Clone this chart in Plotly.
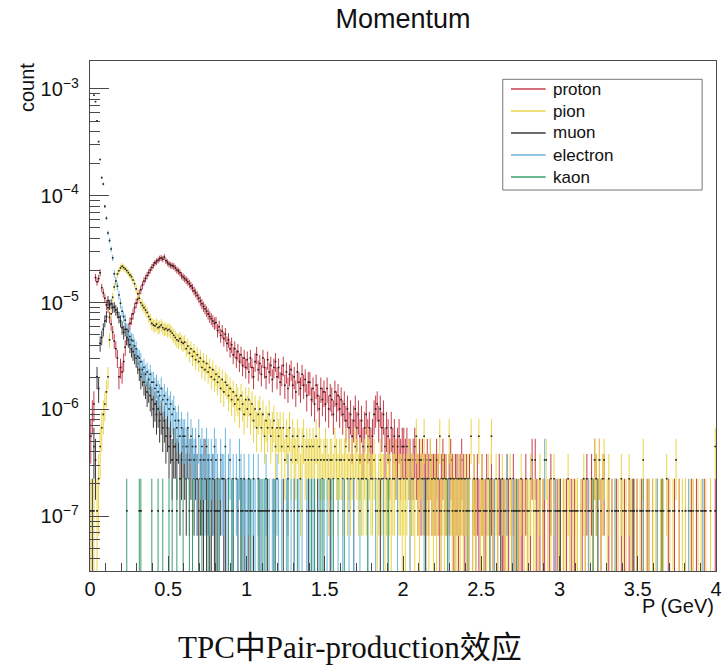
import numpy as np
import plotly.graph_objects as go

# ---------------- histogram definition ----------------
P_MIN, P_MAX, N_BINS = 0.0, 4.0, 400      # momentum bins (GeV)
ENTRY_WEIGHT = 1.12e-7                    # value of one entry ("count" per entry)

# entries per bin, 20 bins (0.2 GeV) per row
proton_counts = [
    [5,8,10,153,140,150,170,123,110,98, 85,80,65,56,47,39,33,27,18,22],
    [20,25,34,42,50,57,63,70,80,88, 96,108,118,130,142,150,160,170,180,190],
    [200,210,216,222,230,234,228,238,220,212, 205,200,198,195,188,180,176,170,160,155],
    [150,145,140,134,128,122,115,110,104,98, 92,87,82,78,74,70,66,63,60,57],
    [58,49,53,44,48,41,45,37,40,33, 36,29,33,27,31,25,29,23,27,22],
    [26,20,27,22,18,25,29,21,24,19, 27,22,18,26,20,23,17,22,25,18],
    [22,16,19,23,15,20,14,19,21,15, 18,13,20,16,14,19,15,17,12,16],
    [16,11,14,10,15,12,9,14,11,13, 10,14,9,12,11,8,13,10,12,9],
    [11,8,10,7,9,6,8,5,7,9, 6,8,5,7,4,6,8,5,6,4],
    [5,8,9,10,7,9,6,8,4,6, 5,3,6,4,5,3,4,5,3,4],
    [4,3,4,3,3,2,3,4,3,2, 3,2,3,2,2,3,2,3,2,2],
    [2,3,2,1,2,3,2,2,1,2, 3,2,1,2,2,1,2,3,2,1],
    [2,1,2,0,1,2,1,2,1,0, 2,1,1,2,0,1,2,1,1,0],
    [1,2,0,1,1,0,2,1,0,1, 2,1,0,1,0,1,1,0,2,1],
    [0,1,3,0,3,1,0,1,0,1, 1,0,0,1,2,0,1,0,1,0],
    [1,0,1,0,1,0,0,1,0,1, 0,1,0,0,1,0,1,2,1,0],
    [2,1,3,2,1,3,1,0,2,0, 0,1,0,1,0,0,1,0,0,1],
    [0,1,0,0,1,0,1,0,0,1, 0,0,1,0,0,0,1,0,0,1],
    [0,0,1,0,0,1,0,0,0,1, 0,0,0,1,0,0,1,0,0,0],
    [1,0,0,0,1,0,0,1,0,0, 0,0,1,0,0,0,1,0,0,1],
]

pion_counts = [
    [1,0,1,0,1,2,4,6,8,10, 13,18,40,70,100,125,142,165,177,188],
    [195,190,184,178,170,162,156,145,134,120, 108,98,89,84,80,76,72,66,62,57],
    [55,54,56,52,53,55,52,50,51,49, 50,48,46,44,42,40,39,41,38,37],
    [38,33,35,30,33,28,31,26,29,25, 27,22,25,21,24,20,22,18,21,17],
    [19,16,18,14,17,13,16,15,12,14, 11,13,10,12,11,9,12,10,8,11],
    [9,11,8,10,7,9,6,8,9,6, 8,5,7,6,8,5,6,7,4,6],
    [5,6,4,6,3,5,4,6,3,5, 4,3,5,4,2,4,5,3,4,3],
    [4,3,4,3,5,3,4,3,2,3, 4,3,2,3,3,2,4,3,2,3],
    [3,2,3,4,2,3,2,3,2,4, 3,2,3,2,2,3,2,4,3,2],
    [2,3,2,1,2,3,2,2,1,2, 3,2,1,2,2,3,1,2,2,1],
    [2,1,2,3,1,2,2,1,5,2, 1,3,2,5,1,2,1,3,2,1],
    [2,1,2,5,1,2,1,2,1,5, 2,1,2,1,1,2,1,2,1,2],
    [1,2,1,5,1,2,1,0,5,1, 2,1,0,1,2,1,5,1,0,2],
    [1,0,1,2,0,1,1,0,2,1, 0,1,1,0,1,2,0,1,0,1],
    [1,2,0,1,1,0,1,2,0,1, 0,3,1,0,1,0,2,1,0,1],
    [1,0,1,1,0,2,1,0,1,0, 1,1,0,1,0,2,1,0,1,1],
    [0,1,3,2,0,3,1,2,3,0, 1,2,0,1,0,1,0,1,0,2],
    [1,0,1,0,2,1,0,1,0,1, 0,1,0,3,0,1,0,1,0,1],
    [0,1,1,0,1,0,1,0,2,0, 1,0,1,0,3,0,1,0,1,0],
    [1,0,0,1,0,1,0,0,1,0, 1,0,0,1,0,0,1,0,0,4],
]

muon_counts = [
    [0,1,4,3,18,14,37,42,50,60, 66,93,85,87,80,81,76,72,65,60],
    [52,47,50,42,40,36,33,31,29,27, 24,21,18,19,16,15,13,14,12,11],
    [9,10,8,9,7,8,6,7,5,6, 4,5,3,4,4,3,5,2,3,4],
    [3,2,4,2,3,1,2,3,2,1, 2,2,1,3,1,2,1,1,2,1],
    [1,0,1,2,0,1,1,0,1,0, 1,1,0,0,1,0,1,0,1,0],
    [0,1,0,0,1,0,0,0,1,0, 0,0,0,1,0,0,0,1,0,0],
    [0,0,0,1,0,0,0,0,0,0, 1,0,0,0,0,0,0,0,0,1],
    [0,0,0,0,0,1,0,0,0,0, 0,0,0,1,0,0,0,0,0,0],
    [0,0,0,0,0,0,0,0,1,0, 0,0,0,0,0,0,0,0,0,0],
    [0,0,0,0,0,1,0,0,0,0, 0,0,0,0,0,0,0,0,0,0],
    [0,0,0,0,0,0,0,0,0,0, 0,0,0,0,1,0,0,0,0,0],
    [0,0,0,0,0,0,0,0,0,0, 0,0,0,0,0,0,0,0,0,0],
    [0,0,0,0,0,0,0,0,0,0, 0,0,0,0,0,0,0,0,0,0],
    [0,0,1,0,0,0,0,0,0,0, 0,0,0,0,0,0,0,0,0,0],
    [0,0,0,0,0,0,0,0,0,0, 0,0,0,0,0,0,0,0,0,0],
    [1,0,0,0,0,0,0,0,0,0, 0,0,0,0,0,0,0,0,0,0],
    [0,0,0,0,0,0,0,0,0,0, 0,0,0,0,0,0,0,0,0,0],
    [0,0,0,0,0,0,0,1,0,0, 0,0,0,0,0,0,0,0,0,0],
    [0,0,0,0,0,0,0,0,0,0, 0,0,0,0,0,0,0,0,0,0],
    [0,0,0,0,0,0,0,0,0,0, 0,0,0,0,0,0,0,0,0,0],
]

electron_counts = [
    [0,0,7800,6800,4500,2870,1950,1320,1150,710, 550,400,340,283,234,166,142,127,105,88],
    [74,66,61,50,48,43,40,39,35,33, 28,27,25,21,22,19,20,17,19,16],
    [16,14,15,13,12,14,11,12,10,11, 9,10,8,9,7,6,7,5,6,5],
    [5,4,6,3,5,4,3,4,2,5, 3,4,3,2,4,3,2,3,2,4],
    [3,2,1,3,2,2,4,1,2,3, 1,2,0,2,1,3,2,1,2,1],
    [1,2,0,1,2,1,0,2,1,1, 0,1,2,0,1,0,1,1,0,2],
    [1,0,1,0,0,1,2,0,1,0, 1,0,0,1,0,1,0,0,1,0],
    [1,0,1,1,0,0,1,0,1,0, 0,1,0,0,1,0,0,0,1,0],
    [0,1,0,0,0,1,0,0,1,0, 0,0,1,0,0,0,0,1,0,0],
    [0,0,1,0,0,0,0,1,0,0, 1,0,0,0,0,0,1,0,0,0],
    [0,0,0,0,1,0,0,0,0,0, 0,0,0,1,0,0,0,0,0,0],
    [0,0,0,0,0,0,0,0,0,1, 0,0,0,0,0,0,0,0,0,0],
    [0,1,0,0,0,0,0,0,0,0, 0,0,0,0,0,0,0,0,1,0],
    [0,0,0,0,0,0,2,0,0,0, 1,0,0,0,0,0,0,0,0,0],
    [0,0,0,0,0,0,0,0,0,0, 3,0,0,0,0,0,0,1,0,0],
    [0,0,0,0,0,0,0,0,0,0, 0,0,0,0,0,0,0,0,1,0],
    [0,0,0,0,0,0,0,0,0,0, 0,0,0,0,0,1,0,0,0,0],
    [0,0,0,0,0,0,0,0,0,0, 0,0,0,0,0,0,0,0,0,0],
    [0,0,1,0,0,0,0,0,0,0, 0,0,0,0,0,0,0,0,0,0],
    [0,0,1,0,0,0,0,0,0,0, 0,1,0,0,0,0,0,0,0,0],
]

kaon_counts = [
    [0,0,0,0,0,0,0,0,0,0, 0,0,0,0,0,0,0,0,0,0],
    [0,0,0,1,0,0,0,0,0,0, 0,1,1,0,0,0,0,0,0,1],
    [0,0,0,1,0,0,1,0,0,0, 1,0,1,0,0,1,0,0,0,1],
    [0,0,0,1,0,1,0,0,0,0, 0,1,0,0,0,1,0,0,0,0],
    [0,1,0,0,0,0,0,0,1,0, 0,1,0,0,0,0,1,0,0,0],
    [0,0,1,0,0,0,0,1,0,0, 1,0,1,0,0,0,0,0,1,0],
    [0,0,0,0,0,0,1,0,0,0, 0,0,1,0,0,0,0,0,0,0],
    [0,1,0,1,0,0,0,1,0,1, 0,0,0,0,0,1,0,0,0,0],
    [0,0,1,0,0,0,0,0,0,0, 0,0,0,0,0,0,0,1,0,0],
    [0,0,0,0,0,0,0,0,0,0, 1,0,0,0,0,0,0,0,0,0],
    [0,0,0,0,0,0,0,0,0,0, 0,0,0,0,0,0,0,0,0,0],
    [0,0,0,0,0,0,0,0,1,0, 0,0,0,0,0,0,0,0,0,0],
    [0,0,0,0,0,0,0,0,0,0, 0,0,0,0,0,1,0,0,0,0],
    [0,0,0,0,0,0,0,0,0,0, 0,0,1,0,0,0,0,0,0,0],
    [0,0,0,0,0,0,0,0,0,0, 0,0,0,0,0,0,0,0,0,0],
    [0,0,0,0,0,0,0,0,0,0, 0,0,0,0,0,0,0,0,0,0],
    [0,1,0,0,1,0,0,0,0,0, 0,0,0,0,0,0,0,0,0,0],
    [0,0,0,0,0,0,0,0,0,0, 0,0,0,1,0,0,0,0,0,0],
    [0,0,0,0,0,1,0,0,0,0, 0,0,0,0,0,0,0,0,0,0],
    [0,0,0,0,0,0,0,0,0,0, 0,0,0,0,0,0,0,0,0,0],
]

species_names = ["proton", "pion", "muon", "electron", "kaon"]
species_colors = ["#c43d4b", "#e9d548", "#3a3a3a", "#6db5dd", "#3c9e6c"]
species_counts = [proton_counts, pion_counts, muon_counts, electron_counts, kaon_counts]

# ---------------- figure ----------------
bin_width = (P_MAX - P_MIN) / N_BINS
centers = P_MIN + bin_width * (np.arange(N_BINS) + 0.5)

fig = go.Figure()
for name, color, rows in zip(species_names, species_colors, species_counts):
    counts = np.array([v for row in rows for v in row], dtype=float)
    if counts.size != N_BINS:
        raise ValueError(f"{name}: {counts.size} bins")
    filled = counts > 0
    fig.add_trace(go.Scatter(
        x=centers[filled],
        y=counts[filled] * ENTRY_WEIGHT,
        mode="markers",
        marker=dict(size=1.6, color="#222222", symbol="square", line=dict(width=0)),
        error_y=dict(type="data", array=np.sqrt(counts[filled]) * ENTRY_WEIGHT,
                     color=color, thickness=1, width=0),
        error_x=dict(type="constant", value=bin_width / 2, color=color,
                     thickness=1, width=0),
        name=name, showlegend=False, hoverinfo="skip",
    ))

L, R, T, B = 90, 3, 61, 96
W, H = 725, 667
pw, ph = W - L - R, H - T - B

def px_x(x):
    return (x - L) / pw

def px_y(y):
    return 1 - (y - T) / ph

axis_col = "#4a4a4a"

# legend box drawn in the ROOT style: box, short line samples, labels
shapes = [dict(type="rect", xref="paper", yref="paper",
               x0=px_x(506.7), x1=px_x(708), y0=px_y(190), y1=px_y(79.3),
               line=dict(color="#777", width=1), fillcolor="white", layer="above")]
annotations = []
for k, (name, color) in enumerate(zip(species_names, species_colors)):
    row_y = 89 + 22 * k
    shapes.append(dict(type="line", xref="paper", yref="paper",
                       x0=px_x(515), x1=px_x(550), y0=px_y(row_y), y1=px_y(row_y),
                       line=dict(color=color, width=1.4), layer="above"))
    annotations.append(dict(text=name, x=px_x(555), y=px_y(row_y), xref="paper",
                            yref="paper", xanchor="left", yanchor="middle",
                            showarrow=False, font=dict(size=17, color="#111")))

annotations += [
    dict(text="count", textangle=-90, x=px_x(26), y=1.0, xref="paper", yref="paper",
         xanchor="center", yanchor="top", showarrow=False, font=dict(size=20)),
    dict(text="P (GeV)", x=1.0, y=px_y(606), xref="paper", yref="paper",
         xanchor="right", yanchor="middle", showarrow=False, font=dict(size=20)),
    dict(text="TPC中Pair-production效应", x=px_x(352), y=px_y(647),
         xref="paper", yref="paper", xanchor="center", yanchor="middle",
         showarrow=False,
         font=dict(family="Liberation Serif, 'Noto Sans CJK SC', serif", size=31,
                   color="#111")),
]

fig.update_layout(
    width=W, height=H,
    margin=dict(l=L, r=R, t=T, b=B),
    paper_bgcolor="white", plot_bgcolor="white",
    font=dict(family="Liberation Sans, Arial, sans-serif", size=20, color="#111"),
    title=dict(text="Momentum", x=px_x(406), xref="paper", xanchor="center",
               y=1 - 19 / H, yref="container", yanchor="middle",
               font=dict(size=27, color="#111")),
    showlegend=False,
    shapes=shapes,
    annotations=annotations,
)

fig.update_xaxes(
    range=[P_MIN, P_MAX], tick0=0, dtick=0.5,
    ticks="inside", ticklen=15, tickwidth=1, tickcolor=axis_col,
    minor=dict(dtick=0.1, ticks="inside", ticklen=8, tickwidth=1, tickcolor=axis_col,
               showgrid=False),
    showline=True, linecolor=axis_col, linewidth=1, mirror=True,
    showgrid=False, zeroline=False, ticklabelstandoff=0,
    ticklabeloverflow="allow",
    tickfont=dict(size=20),
)
fig.update_yaxes(
    type="log", range=[-7.514, -2.738], dtick=1, exponentformat="power",
    ticks="inside", ticklen=19, tickwidth=1, tickcolor=axis_col,
    minor=dict(dtick="D1", ticks="inside", ticklen=10, tickwidth=1, tickcolor=axis_col,
               showgrid=False),
    showline=True, linecolor=axis_col, linewidth=1, mirror=True,
    showgrid=False, zeroline=False, ticklabelstandoff=7,
    tickfont=dict(size=16),
)

fig.write_html("out.html")
